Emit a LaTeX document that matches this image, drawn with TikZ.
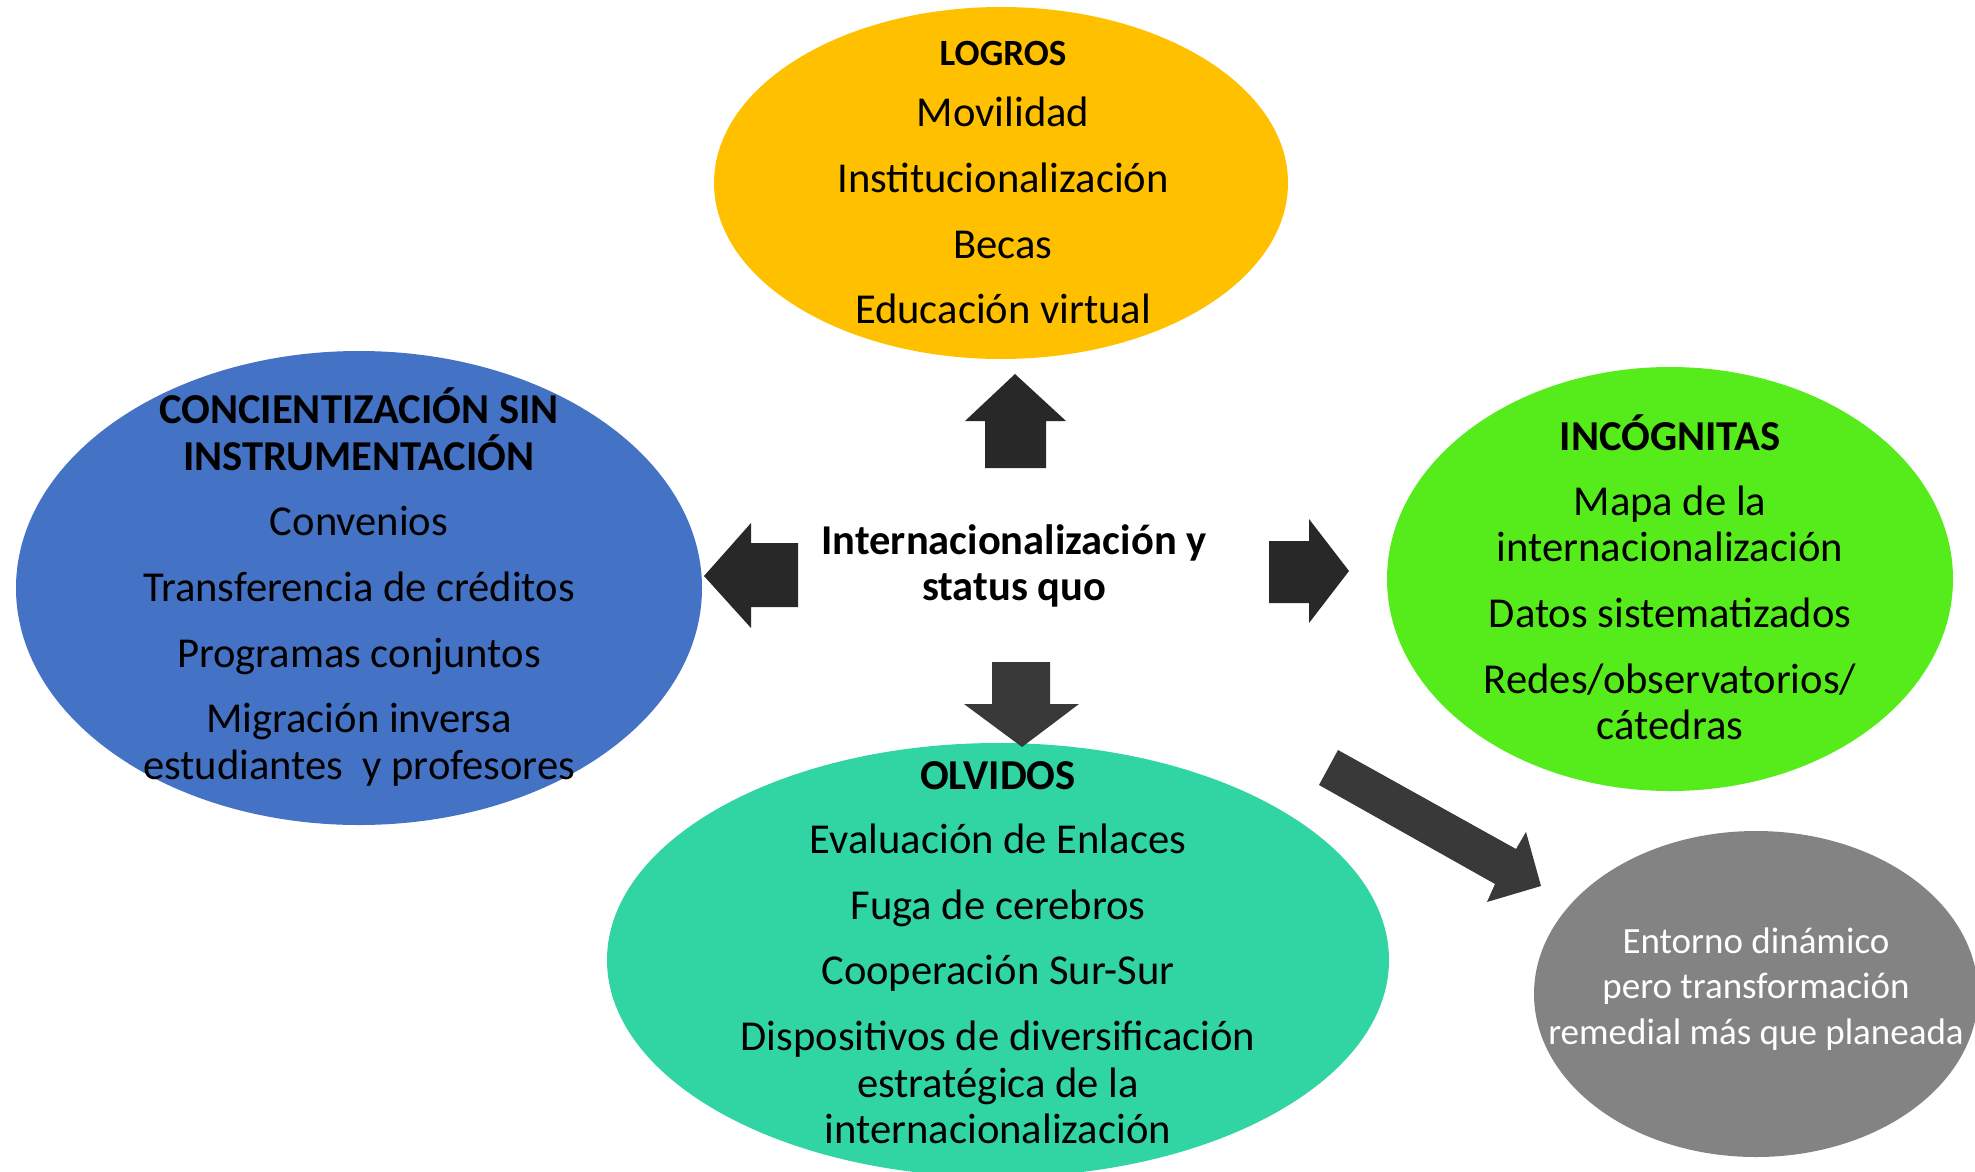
\documentclass[tikz,border=0pt]{standalone}
\usepackage{fontspec}
\setmainfont{Carlito}
\usetikzlibrary{shapes.geometric}
\definecolor{cOrange}{HTML}{FFC000}
\definecolor{cBlue}{HTML}{4472C4}
\definecolor{cGreen}{HTML}{56EB1A}
\definecolor{cTeal}{HTML}{30D5A3}
\definecolor{cGray}{HTML}{838383}
\definecolor{cArrowA}{HTML}{282828}
\definecolor{cArrowB}{HTML}{393939}
\tikzset{
  blob/.style={ellipse, inner sep=0pt, draw=none},
  txt/.style={align=center, inner sep=0pt, font=\fontsize{42.6}{46.6}\selectfont},
}
\begin{document}
\begin{tikzpicture}[x=1pt,y=-1pt]
\useasboundingbox (0,0) rectangle (1975,1172);
% ellipses
\node[blob, fill=cOrange, minimum width=574pt, minimum height=352pt] (logros) at (1001,183) {};
\node[blob, fill=cBlue, minimum width=686pt, minimum height=474pt] (conc) at (359,588) {};
\node[blob, fill=cGreen, minimum width=566pt, minimum height=424pt] (inc) at (1670,579) {};
\node[blob, fill=cTeal, minimum width=782pt, minimum height=434pt] (olv) at (998,960) {};
\node[blob, fill=cGray, minimum width=444pt, minimum height=326pt] (ent) at (1756,994) {};
% texts
\node[txt] (tlogros) at (1003,182.5) {{\bfseries\fontsize{37}{46.6}\selectfont LOGROS}\\[15pt]
Movilidad\\[19pt] Institucionalización\\[19pt] Becas\\[19pt] Educación virtual};
\node[txt] (tconc) at (359,587) {{\bfseries CONCIENTIZACIÓN SIN}\\ {\bfseries INSTRUMENTACIÓN}\\[19pt]
Convenios\\[19pt] Transferencia de créditos\\[19pt] Programas conjuntos\\[19pt] Migración inversa\\ estudiantes\ \ y profesores};
\node[txt] (tinc) at (1670,577.5) {{\bfseries INCÓGNITAS}\\[18pt]
Mapa de la\\ internacionalización\\[19pt] Datos sistematizados\\[19pt] Redes/observatorios/\\ cátedras};
\node[txt] (tolv) at (998,952.5) {{\bfseries OLVIDOS}\\[18pt]
Evaluación de Enlaces\\[19pt] Fuga de cerebros\\[19pt] Cooperación Sur-Sur\\[19pt] Dispositivos de diversificación\\ estratégica de la\\ internacionalización};
\node[txt, text=white, font=\fontsize{37}{45.5}\selectfont] (tent) at (1756,989) {Entorno dinámico\\ pero transformación\\ remedial más que planeada};
\node[txt, font=\bfseries\fontsize{42.5}{46}\selectfont] (center) at (1014,565.5) {Internacionalización y\\ status quo};
% block arrows
\fill[cArrowA] (985,468) -- (985,421) -- (965,421) -- (1015,374) -- (1066,421) -- (1046,421) -- (1046,468) -- cycle;
\fill[cArrowA] (798,543) -- (751,543) -- (751,523) -- (704,576) -- (751,628) -- (751,607) -- (798,607) -- cycle;
\fill[cArrowA] (1269,541) -- (1309,541) -- (1309,519) -- (1349,571) -- (1309,623) -- (1309,603) -- (1269,603) -- cycle;
\fill[cArrowB] (992,662) -- (1050,662) -- (1050,704) -- (1079,704) -- (1022,747) -- (964,704) -- (992,704) -- cycle;
\fill[cArrowB] (1338,750) -- (1516,849) -- (1526,832) -- (1541,886) -- (1487,902) -- (1495,884) -- (1319,785) -- cycle;
\end{tikzpicture}
\end{document}
